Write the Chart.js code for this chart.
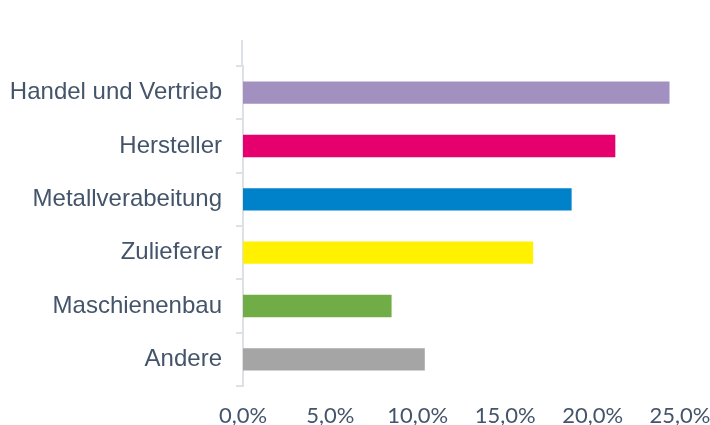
<!DOCTYPE html>
<html>
<head>
<meta charset="utf-8">
<script src="https://cdn.jsdelivr.net/npm/chart.js@4"></script>
<style>
  html, body { margin: 0; padding: 0; background: #fff; }
  #wrap { width: 710px; height: 425px; }
</style>
</head>
<body>
<div id="wrap"><canvas id="chart"></canvas></div>
<script>
const categories = [
  "Handel und Vertrieb",
  "Hersteller",
  "Metallverabeitung",
  "Zulieferer",
  "Maschienenbau",
  "Andere",
];
const shares = [24.4, 21.3, 18.8, 16.6, 8.5, 10.4];
const barColors = ["#A291C0", "#E5006E", "#0082CA", "#FFF100", "#70AD47", "#A5A5A5"];
const xTicks = [0, 5, 10, 15, 20, 25];

const axisColor = "#DDE1E7";
const textColor = "#44546A";

// the category axis line runs a little above the first slot
const axisTop = {
  id: "axisTop",
  afterDraw(chart) {
    const { ctx, chartArea } = chart;
    ctx.save();
    ctx.strokeStyle = axisColor;
    ctx.lineWidth = 2;
    ctx.beginPath();
    ctx.moveTo(chartArea.left - 1, 40);
    ctx.lineTo(chartArea.left - 1, chartArea.top);
    ctx.stroke();
    ctx.restore();
  },
};

new Chart(document.getElementById("chart").getContext("2d"), {
  type: "bar",
  data: {
    labels: categories,
    datasets: [{
      data: shares,
      backgroundColor: barColors,
      borderWidth: 0,
      barPercentage: 0.42,
      categoryPercentage: 1,
    }],
  },
  options: {
    indexAxis: "y",
    responsive: true,
    maintainAspectRatio: false,
    animation: false,
    layout: { padding: { top: 66, right: 0, left: 0, bottom: 0 } },
    plugins: { legend: { display: false }, tooltip: { enabled: false } },
    scales: {
      x: {
        min: 0,
        max: 25,
        afterBuildTicks(scale) {
          scale.ticks = xTicks.map((v) => ({ value: v }));
        },
        afterFit(scale) {
          scale.height = 39;
          scale.paddingLeft = 0;
          scale.paddingRight = 30;
        },
        grid: { display: false, drawTicks: false },
        border: { display: false },
        ticks: {
          padding: 17,
          color: textColor,
          font: { family: "Lato", size: 22 },
          callback: (v) => v.toFixed(1).replace(".", ",") + "%",
        },
      },
      y: {
        afterFit(scale) { scale.width = 243; },
        grid: {
          offset: true,
          drawOnChartArea: false,
          color: axisColor,
          lineWidth: 2,
          tickLength: 7,
        },
        border: { color: axisColor, width: 2 },
        ticks: {
          padding: 14,
          color: textColor,
          font: { family: "Liberation Sans", size: 24 },
        },
      },
    },
  },
  plugins: [axisTop],
});
</script>
</body>
</html>
